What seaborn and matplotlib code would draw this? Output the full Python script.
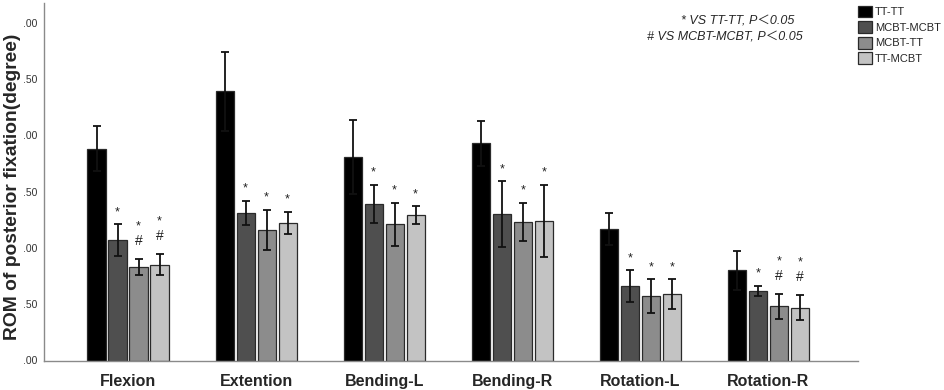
import numpy as np
import pandas as pd
import matplotlib
matplotlib.use("Agg")
import matplotlib.pyplot as plt
import seaborn as sns
from matplotlib.patches import Patch

motions = ["Flexion", "Extention", "Bending-L", "Bending-R", "Rotation-L", "Rotation-R"]
groups = ["TT-TT", "MCBT-MCBT", "MCBT-TT", "TT-MCBT"]

mean_tt_tt = [1.88, 2.39, 1.81, 1.93, 1.17, 0.80]
mean_mcbt_mcbt = [1.07, 1.31, 1.39, 1.30, 0.66, 0.62]
mean_mcbt_tt = [0.83, 1.16, 1.21, 1.23, 0.57, 0.48]
mean_tt_mcbt = [0.85, 1.22, 1.29, 1.24, 0.59, 0.47]

err_tt_tt = [0.20, 0.35, 0.33, 0.20, 0.14, 0.17]
err_mcbt_mcbt = [0.14, 0.11, 0.17, 0.29, 0.14, 0.045]
err_mcbt_tt = [0.07, 0.18, 0.19, 0.17, 0.15, 0.11]
err_tt_mcbt = [0.095, 0.10, 0.08, 0.32, 0.13, 0.11]

# significance marks (per group, per motion): "*" vs TT-TT, "#" vs MCBT-MCBT
sig_tt_tt = ["", "", "", "", "", ""]
sig_mcbt_mcbt = ["*", "*", "*", "*", "*", "*"]
sig_mcbt_tt = ["*#", "*", "*", "*", "*", "*#"]
sig_tt_mcbt = ["*#", "*", "*", "*", "*", "*#"]

ytick_vals = [0.0, 0.5, 1.0, 1.5, 2.0, 2.5, 3.0]
ytick_labels = [".00", ".50", ".00", ".50", ".00", ".50", ".00"]

colors = ["#000000", "#4f4f4f", "#8c8c8c", "#c3c3c3"]

means = [mean_tt_tt, mean_mcbt_mcbt, mean_mcbt_tt, mean_tt_mcbt]
errs = [err_tt_tt, err_mcbt_mcbt, err_mcbt_tt, err_tt_mcbt]
sigs = [sig_tt_tt, sig_mcbt_mcbt, sig_mcbt_tt, sig_tt_mcbt]

df = pd.DataFrame({
    "motion": np.tile(motions, len(groups)),
    "group": np.repeat(groups, len(motions)),
    "mean": np.concatenate(means),
})

sns.set_style("white")
plt.rcParams["font.family"] = ["Liberation Sans", "DejaVu Sans"]

fig = plt.figure(figsize=(9.45, 3.9), dpi=100)
ax = fig.add_axes([44 / 945, 1 - 360.5 / 390, (858 - 44) / 945, (360.5 - 3) / 390])

sns.barplot(data=df, x="motion", y="mean", hue="group", order=motions, hue_order=groups,
            palette=colors, errorbar=None, width=0.656, gap=0.14,
            edgecolor="#2a2a2a", linewidth=0.9, ax=ax, legend=False)

bar_conts = list(ax.containers)
for gi, cont in enumerate(bar_conts):
    xs = [b.get_x() + b.get_width() / 2 for b in cont]
    hs = [b.get_height() for b in cont]
    ax.errorbar(xs, hs, yerr=errs[gi], fmt="none", ecolor="#111111",
                elinewidth=1.3, capsize=3, capthick=1.3, zorder=5)
    for x, h, e, s in zip(xs, hs, errs[gi], sigs[gi]):
        if s == "*":
            ax.annotate("*", (x, h + e), xytext=(0, 6.5), textcoords="offset points",
                        ha="center", va="baseline", fontsize=9, color="#222222")
        elif s == "*#":
            ax.annotate("#", (x, h + e), xytext=(0, 10), textcoords="offset points",
                        ha="center", va="baseline", fontsize=10, color="#222222")
            ax.annotate("*", (x, h + e), xytext=(0, 21.5), textcoords="offset points",
                        ha="center", va="baseline", fontsize=9, color="#222222")

ax.set_ylim(0, 3.175)
ax.set_xlim(-0.656, 5.70)
ax.set_yticks(ytick_vals)
ax.set_yticklabels(ytick_labels, fontsize=7.5, color="#333333")
ax.tick_params(axis="both", length=0)
ax.tick_params(axis="x", pad=10)
ax.tick_params(axis="y", pad=5)
for lab in ax.get_xticklabels():
    lab.set_fontweight("bold")
    lab.set_fontsize(11.5)
ax.set_xlabel("")
ax.set_ylabel("")
fig.text(13 / 945, 1 - 187 / 390, "ROM of posterior fixation(degree)", rotation=90,
         ha="center", va="center", fontsize=13.9, fontweight="bold")
sns.despine(ax=ax, top=True, right=True)
for sp in ["left", "bottom"]:
    ax.spines[sp].set_color("#8a8a8a")
    ax.spines[sp].set_linewidth(1.0)

ax.text(794 / 945, 1 - 22 / 390, "* VS TT-TT, P＜0.05", transform=fig.transFigure,
        ha="right", va="center", fontsize=9, style="italic",
        family=["Liberation Sans", "Noto Sans CJK SC"])
ax.text(803 / 945, 1 - 37 / 390, "# VS MCBT-MCBT, P＜0.05", transform=fig.transFigure,
        ha="right", va="center", fontsize=9, style="italic",
        family=["Liberation Sans", "Noto Sans CJK SC"])

handles = [Patch(facecolor=c, edgecolor="#2a2a2a", linewidth=0.9) for c in colors]
fig.legend(handles, groups, loc="upper left", bbox_to_anchor=(858 / 945, 1 - 5.5 / 390),
           frameon=False, fontsize=8, handlelength=1.25, handleheight=1.25,
           handletextpad=0.25, labelspacing=0.35, borderpad=0, borderaxespad=0)

fig.savefig("out.png", dpi=100)
